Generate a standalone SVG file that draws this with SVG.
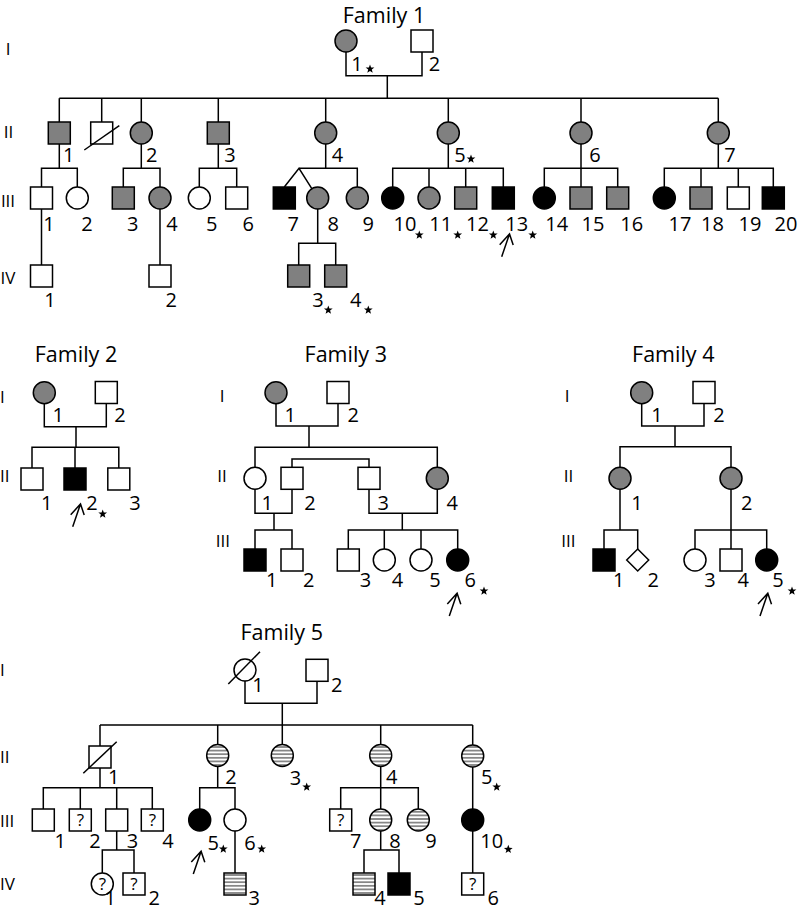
<svg xmlns="http://www.w3.org/2000/svg" width="800" height="910" viewBox="0 0 800 910">
<style>
.ln{stroke:#000;stroke-width:1.5;fill:none}
.s{stroke:#000;stroke-width:1.5}
.w{fill:#fff}.g{fill:#808080}.b{fill:#000}.h{fill:url(#hatch)}
text{font-family:"Open Sans","Noto Sans","DejaVu Sans",sans-serif;fill:#000}
.n{font-size:20px;text-anchor:middle}
.tt{font-size:21.5px;text-anchor:middle}
.gc{font-size:17px;text-anchor:middle}
.gs{font-size:17px}
.q{font-size:17px;text-anchor:middle}
</style>
<defs>
<pattern id="hatch" patternUnits="userSpaceOnUse" width="8" height="3.6"><rect width="8" height="3.6" fill="#fff"/><line x1="0" y1="1.8" x2="8" y2="1.8" stroke="#000" stroke-width="0.9"/></pattern>
<polygon id="star" points="0,-4.6 1.117,-1.537 4.375,-1.421 1.807,0.587 2.704,3.721 0,1.9 -2.704,3.721 -1.807,0.587 -4.375,-1.421 -1.117,-1.537" fill="#000"/>
<path id="arrow" d="M0,0 L7.8,-22.7 M-2,-12 L7.8,-22.7 L11.5,-11.7" stroke="#000" stroke-width="1.5" fill="none"/>
<rect id="sq" x="-11" y="-11" width="22" height="22"/>
</defs>

<!-- ============ Family 1 ============ -->
<text class="tt" x="384" y="23">Family 1</text>
<g id="f1-gen">
<text class="gc" x="8" y="55">I</text>
<text class="gc" x="8.5" y="137.5">II</text>
<text class="gc" x="8" y="207">III</text>
<text class="gc" x="8" y="283.5">IV</text>
</g>
<g id="f1-connectors">
<path class="ln" d="M346,52 V75.7 H422 V52 M387.3,75.7 V98.3 M59.3,98.3 H718.3 M59.3,98.3 V122 M101.7,98.3 V122 M141.3,98.3 V122 M218.3,98.3 V122 M325.7,98.3 V122 M448.3,98.3 V122 M581,98.3 V122 M718.3,98.3 V122"/>
<path class="ln" d="M59.3,144 V168.3 M41.5,187 V168.3 H77.3 V187 M141.3,144 V168.3 M123.3,187 V168.3 H160 V187 M218.3,144 V168.3 M199.3,187 V168.3 H236.7 V187"/>
<path class="ln" d="M325.7,144 V168.3 M299,168.3 H357.3 V187 M284.3,187 L299,168.3 L311.8,188.7"/>
<path class="ln" d="M448.3,144 V168.3 M392.7,187 V168.3 H503.3 V187 M429,168.3 V187 M465.7,168.3 V187"/>
<path class="ln" d="M581,144 V187 M544.3,187 V168.3 H617.7 V187"/>
<path class="ln" d="M718.3,144 V168.3 M664.3,187 V168.3 H773.3 V187 M701,168.3 V187 M738.3,168.3 V187"/>
<path class="ln" d="M41.5,209 V265 M160,209 V265 M317.7,209 V243.3 M298.7,265 V243.3 H335.7 V265"/>
</g>
<g id="f1-I1"><circle class="s g" cx="346" cy="41" r="11"/><text class="n" x="357" y="71">1</text><use href="#star" x="370" y="69"/></g>
<g id="f1-I2"><use href="#sq" class="s w" x="422" y="41"/><text class="n" x="434.5" y="71">2</text></g>
<g id="f1-II1"><use href="#sq" class="s g" x="59.3" y="133"/><text class="n" x="68.7" y="162">1</text></g>
<g id="f1-IIx"><use href="#sq" class="s w" x="101.7" y="133"/><line class="ln" x1="84.3" y1="150" x2="119.3" y2="125.7"/></g>
<g id="f1-II2"><circle class="s g" cx="141.3" cy="133" r="11"/><text class="n" x="151.7" y="162">2</text></g>
<g id="f1-II3"><use href="#sq" class="s g" x="218.3" y="133"/><text class="n" x="230" y="162">3</text></g>
<g id="f1-II4"><circle class="s g" cx="325.7" cy="133" r="11"/><text class="n" x="337.5" y="162">4</text></g>
<g id="f1-II5"><circle class="s g" cx="448.3" cy="133" r="11"/><text class="n" x="460" y="162">5</text><use href="#star" x="471" y="159"/></g>
<g id="f1-II6"><circle class="s g" cx="581" cy="133" r="11"/><text class="n" x="595" y="162">6</text></g>
<g id="f1-II7"><circle class="s g" cx="718.3" cy="133" r="11"/><text class="n" x="730" y="162">7</text></g>

<g id="f1-III1"><use href="#sq" class="s w" x="41.5" y="198"/><text class="n" x="49" y="231">1</text></g>
<g id="f1-III2"><circle class="s w" cx="77.3" cy="198" r="11"/><text class="n" x="87" y="231">2</text></g>
<g id="f1-III3"><use href="#sq" class="s g" x="123.3" y="198"/><text class="n" x="132.7" y="231">3</text></g>
<g id="f1-III4"><circle class="s g" cx="160" cy="198" r="11"/><text class="n" x="172" y="231">4</text></g>
<g id="f1-III5"><circle class="s w" cx="199.3" cy="198" r="11"/><text class="n" x="211.7" y="231">5</text></g>
<g id="f1-III6"><use href="#sq" class="s w" x="236.7" y="198"/><text class="n" x="248.3" y="231">6</text></g>
<g id="f1-III7"><use href="#sq" class="s b" x="284.3" y="198"/><text class="n" x="293.3" y="231">7</text></g>
<g id="f1-III8"><circle class="s g" cx="317.7" cy="198" r="11"/><text class="n" x="333.3" y="231">8</text></g>
<g id="f1-III9"><circle class="s g" cx="357.3" cy="198" r="11"/><text class="n" x="368.3" y="231">9</text></g>
<g id="f1-III10"><circle class="s b" cx="392.7" cy="198" r="11"/><text class="n" x="405" y="231">10</text><use href="#star" x="419.3" y="235"/></g>
<g id="f1-III11"><circle class="s g" cx="429" cy="198" r="11"/><text class="n" x="440.8" y="231">11</text><use href="#star" x="457.7" y="235"/></g>
<g id="f1-III12"><use href="#sq" class="s g" x="465.7" y="198"/><text class="n" x="477.5" y="231">12</text><use href="#star" x="493.3" y="235"/></g>
<g id="f1-III13"><use href="#sq" class="s b" x="503.3" y="198"/><text class="n" x="516.8" y="231">13</text><use href="#star" x="532.7" y="235"/><use href="#arrow" x="501.7" y="256.7"/></g>
<g id="f1-III14"><circle class="s b" cx="544.3" cy="198" r="11"/><text class="n" x="556.7" y="231">14</text></g>
<g id="f1-III15"><use href="#sq" class="s g" x="581" y="198"/><text class="n" x="593" y="231">15</text></g>
<g id="f1-III16"><use href="#sq" class="s g" x="617.7" y="198"/><text class="n" x="631.7" y="231">16</text></g>
<g id="f1-III17"><circle class="s b" cx="664.3" cy="198" r="11"/><text class="n" x="680" y="231">17</text></g>
<g id="f1-III18"><use href="#sq" class="s g" x="701" y="198"/><text class="n" x="712.5" y="231">18</text></g>
<g id="f1-III19"><use href="#sq" class="s w" x="738.3" y="198"/><text class="n" x="750" y="231">19</text></g>
<g id="f1-III20"><use href="#sq" class="s b" x="773.3" y="198"/><text class="n" x="786" y="231">20</text></g>

<g id="f1-IV1"><use href="#sq" class="s w" x="41.5" y="276"/><text class="n" x="50" y="307">1</text></g>
<g id="f1-IV2"><use href="#sq" class="s w" x="160" y="276"/><text class="n" x="171.3" y="307">2</text></g>
<g id="f1-IV3"><use href="#sq" class="s g" x="298.7" y="276"/><text class="n" x="318" y="307">3</text><use href="#star" x="328.3" y="310"/></g>
<g id="f1-IV4"><use href="#sq" class="s g" x="335.7" y="276"/><text class="n" x="355.8" y="307">4</text><use href="#star" x="368.3" y="310"/></g>

<!-- ============ Family 2 ============ -->
<text class="tt" x="76" y="361.7">Family 2</text>
<g id="f2-gen"><text class="gs" x="0" y="403">I</text><text class="gs" x="0" y="482">II</text></g>
<g id="f2-connectors">
<path class="ln" d="M44.3,403.7 V426.7 H106.3 V403.5 M76,426.7 V447.3 M32,468 V447.3 H118.8 V468 M75,447.3 V468"/>
</g>
<g id="f2-I1"><circle class="s g" cx="44.3" cy="392.7" r="11"/><text class="n" x="58.3" y="421.7">1</text></g>
<g id="f2-I2"><use href="#sq" class="s w" x="106.3" y="392.5"/><text class="n" x="120" y="422">2</text></g>
<g id="f2-II1"><use href="#sq" class="s w" x="32" y="479"/><text class="n" x="46.7" y="510">1</text></g>
<g id="f2-II2"><use href="#sq" class="s b" x="75" y="479"/><text class="n" x="92" y="510">2</text><use href="#star" x="102.7" y="514"/><use href="#arrow" x="72.7" y="526.7"/></g>
<g id="f2-II3"><use href="#sq" class="s w" x="118.8" y="479"/><text class="n" x="135" y="510">3</text></g>

<!-- ============ Family 3 ============ -->
<text class="tt" x="345.8" y="361.7">Family 3</text>
<g id="f3-gen"><text class="gc" x="222" y="402">I</text><text class="gc" x="222" y="482">II</text><text class="gc" x="222.8" y="547">III</text></g>
<g id="f3-connectors">
<path class="ln" d="M276,403.7 V426 H338 V403.5 M309,426 V447.3 M255,467.3 V447.3 H437.3 V467.3 M292,467.3 V459 H369 V467.3"/>
<path class="ln" d="M255,489.3 V513.3 H292 V489.3 M274,513.3 V530 M255,549 V530 H292 V549"/>
<path class="ln" d="M369,489.3 V513.3 H437.3 V489.3 M402.3,513.3 V530 M348.3,549 V530 H457.7 V549 M384.3,530 V549 M421,530 V549"/>
</g>
<g id="f3-I1"><circle class="s g" cx="276" cy="392.7" r="11"/><text class="n" x="290.3" y="421.7">1</text></g>
<g id="f3-I2"><use href="#sq" class="s w" x="338" y="392.5"/><text class="n" x="353.3" y="421.7">2</text></g>
<g id="f3-II1"><circle class="s w" cx="255" cy="478.3" r="11"/><text class="n" x="267.3" y="510">1</text></g>
<g id="f3-II2"><use href="#sq" class="s w" x="292" y="478.3"/><text class="n" x="310" y="510">2</text></g>
<g id="f3-II3"><use href="#sq" class="s w" x="369" y="478.3"/><text class="n" x="383.3" y="510">3</text></g>
<g id="f3-II4"><circle class="s g" cx="437.3" cy="478.3" r="11"/><text class="n" x="452.3" y="510">4</text></g>
<g id="f3-III1"><use href="#sq" class="s b" x="255" y="560"/><text class="n" x="271.7" y="587">1</text></g>
<g id="f3-III2"><use href="#sq" class="s w" x="292" y="560"/><text class="n" x="308.7" y="587">2</text></g>
<g id="f3-III3"><use href="#sq" class="s w" x="348.3" y="560"/><text class="n" x="365.5" y="587">3</text></g>
<g id="f3-III4"><circle class="s w" cx="384.3" cy="560" r="11"/><text class="n" x="397.5" y="587">4</text></g>
<g id="f3-III5"><circle class="s w" cx="421" cy="560" r="11"/><text class="n" x="435" y="587">5</text></g>
<g id="f3-III6"><circle class="s b" cx="457.7" cy="560" r="11"/><text class="n" x="470.3" y="587">6</text><use href="#star" x="484" y="591"/><use href="#arrow" x="449.3" y="616"/></g>

<!-- ============ Family 4 ============ -->
<text class="tt" x="673.3" y="361.7">Family 4</text>
<g id="f4-gen"><text class="gc" x="567" y="402">I</text><text class="gc" x="568.5" y="482">II</text><text class="gc" x="568.3" y="547">III</text></g>
<g id="f4-connectors">
<path class="ln" d="M641.7,403.7 V426 H704 V403.5 M675,426 V446.7 M620,467.3 V446.7 H731 V467.3"/>
<path class="ln" d="M620,489.3 V530 M604,549 V530 H637.7 V549 M731,489.3 V549 M695,549 V530 H766.7 V549"/>
</g>
<g id="f4-I1"><circle class="s g" cx="641.7" cy="392.7" r="11"/><text class="n" x="657" y="421.7">1</text></g>
<g id="f4-I2"><use href="#sq" class="s w" x="704" y="392.5"/><text class="n" x="719" y="422">2</text></g>
<g id="f4-II1"><circle class="s g" cx="620" cy="478.3" r="11"/><text class="n" x="637" y="510">1</text></g>
<g id="f4-II2"><circle class="s g" cx="731" cy="478.3" r="11"/><text class="n" x="746.7" y="510">2</text></g>
<g id="f4-III1"><use href="#sq" class="s b" x="604" y="560"/><text class="n" x="618.8" y="587">1</text></g>
<g id="f4-III2"><polygon class="s w" points="637.7,549 648.7,560 637.7,571 626.7,560"/><text class="n" x="653.3" y="587">2</text></g>
<g id="f4-III3"><circle class="s w" cx="695" cy="560" r="11"/><text class="n" x="710" y="587">3</text></g>
<g id="f4-III4"><use href="#sq" class="s w" x="731" y="560"/><text class="n" x="743.3" y="587">4</text></g>
<g id="f4-III5"><circle class="s b" cx="766.7" cy="560" r="11"/><text class="n" x="778" y="587">5</text><use href="#star" x="792" y="591"/><use href="#arrow" x="760" y="616"/></g>

<!-- ============ Family 5 ============ -->
<text class="tt" x="281.7" y="640">Family 5</text>
<g id="f5-gen"><text class="gs" x="0" y="676">I</text><text class="gs" x="0" y="763">II</text><text class="gs" x="0" y="826.5">III</text><text class="gs" x="0" y="890">IV</text></g>
<g id="f5-connectors">
<path class="ln" d="M245,681 V703.3 H317 V681.3 M282.3,703.3 V744.5 M100,725 H472.7 M100,725 V746 M217.7,725 V744.5 M380.7,725 V744.5 M472.7,725 V745"/>
<path class="ln" d="M100,768 V787.7 M43.3,809 V787.7 H152.3 V809 M80.3,787.7 V809 M116.7,787.7 V809 M116.7,831 V850 M102.3,873 V850 H134 V873"/>
<path class="ln" d="M217.7,766.5 V787.7 M199.7,809 V787.7 H235 V809 M235,831 V873"/>
<path class="ln" d="M380.7,766.5 V809 M340.7,809 V787.7 H418.3 V809 M380.7,831 V850 M364,873 V850 H399 V873"/>
<path class="ln" d="M472.7,767 V809 M472.7,831 V873"/>
</g>
<g id="f5-I1"><circle class="s w" cx="245" cy="670" r="11"/><line class="ln" x1="228.3" y1="684" x2="260" y2="651.7"/><text class="n" x="258" y="691.7">1</text></g>
<g id="f5-I2"><use href="#sq" class="s w" x="317" y="670.3"/><text class="n" x="336.7" y="692">2</text></g>
<g id="f5-II1"><use href="#sq" class="s w" x="100" y="757"/><line class="ln" x1="83.3" y1="773.3" x2="116.7" y2="741.7"/><text class="n" x="113.7" y="784">1</text></g>
<g id="f5-II2"><circle class="s h" cx="217.7" cy="755.5" r="11"/><text class="n" x="231" y="784">2</text></g>
<g id="f5-II3"><circle class="s h" cx="282.3" cy="755.5" r="11"/><text class="n" x="295.5" y="785">3</text><use href="#star" x="306.7" y="787"/></g>
<g id="f5-II4"><circle class="s h" cx="380.7" cy="755.5" r="11"/><text class="n" x="391.7" y="784">4</text></g>
<g id="f5-II5"><circle class="s h" cx="472.7" cy="756" r="11"/><text class="n" x="486.7" y="784">5</text><use href="#star" x="496.7" y="787"/></g>

<g id="f5-III1"><use href="#sq" class="s w" x="43.3" y="820"/><text class="n" x="60.3" y="848">1</text></g>
<g id="f5-III2"><use href="#sq" class="s w" x="80.3" y="820"/><text class="q" x="80.3" y="826">?</text><text class="n" x="95" y="848">2</text></g>
<g id="f5-III3"><use href="#sq" class="s w" x="116.7" y="820"/><text class="n" x="132.5" y="848">3</text></g>
<g id="f5-III4"><use href="#sq" class="s w" x="152.3" y="820"/><text class="q" x="152.3" y="826">?</text><text class="n" x="168" y="848">4</text></g>
<g id="f5-III5"><circle class="s b" cx="199.7" cy="820" r="11"/><text class="n" x="213.3" y="849.5">5</text><use href="#star" x="223.3" y="849"/><use href="#arrow" x="193.3" y="874"/></g>
<g id="f5-III6"><circle class="s w" cx="235" cy="820" r="11"/><text class="n" x="250" y="849.5">6</text><use href="#star" x="261.7" y="849"/></g>
<g id="f5-III7"><use href="#sq" class="s w" x="340.7" y="820"/><text class="q" x="340.7" y="826">?</text><text class="n" x="355.8" y="848">7</text></g>
<g id="f5-III8"><circle class="s h" cx="380.7" cy="820" r="11"/><text class="n" x="395" y="848">8</text></g>
<g id="f5-III9"><circle class="s h" cx="418.3" cy="820" r="11"/><text class="n" x="431" y="848">9</text></g>
<g id="f5-III10"><circle class="s b" cx="472.7" cy="820" r="11"/><text class="n" x="491.7" y="848">10</text><use href="#star" x="508.3" y="849.3"/></g>

<g id="f5-IV1"><circle class="s w" cx="102.3" cy="884" r="11"/><text class="q" x="102.3" y="890">?</text><text class="n" x="110.3" y="904.5">1</text></g>
<g id="f5-IV2"><use href="#sq" class="s w" x="134" y="884"/><text class="q" x="134" y="890">?</text><text class="n" x="154.3" y="904.5">2</text></g>
<g id="f5-IV3"><use href="#sq" class="s h" x="235" y="884"/><text class="n" x="254.3" y="904.5">3</text></g>
<g id="f5-IV4"><use href="#sq" class="s h" x="364" y="884"/><text class="n" x="380" y="904.5">4</text></g>
<g id="f5-IV5"><use href="#sq" class="s b" x="399" y="884"/><text class="n" x="419" y="904.5">5</text></g>
<g id="f5-IV6"><use href="#sq" class="s w" x="472.7" y="884"/><text class="q" x="472.7" y="890">?</text><text class="n" x="493.3" y="904.5">6</text></g>
</svg>
